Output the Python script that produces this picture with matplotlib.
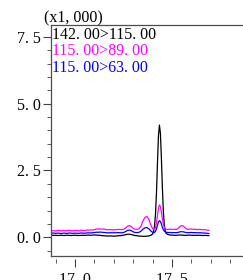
import matplotlib.pyplot as plt
from matplotlib.ticker import MultipleLocator, FixedLocator
import numpy as np

# retention time grid (min): 0.01 steps, 0.005 steps around the main peak
rt = np.round(np.concatenate([np.arange(16.88, 17.395, 0.01),
                              np.arange(17.400, 17.4725, 0.005),
                              np.arange(17.48, 17.695, 0.01)]), 3)

# 142.00>115.00
black = [80, 70, 75, 65, 70, 75, 65, 70, 75, 70, 65, 70, 75, 70, 65, 70, 75, 70, 75, 80,
         75, 80, 85, 80, 75, 70, 60, 55, 50, 45, 50, 45, 40, 45, 55, 60, 65, 80, 95, 110,
         115, 100, 80, 65, 55, 45, 40, 35, 35, 40, 50, 70,
         120, 220, 450, 900, 1700, 2800, 3800, 4200, 3900, 3000, 1900, 1000, 480, 240, 140,
         100, 85, 80, 75, 70, 80, 85, 80, 75, 70, 75, 80, 75, 70, 75, 70, 75, 70, 65, 70,
         65, 60]
# 115.00>89.00
magenta = [240, 250, 230, 260, 250, 235, 255, 240, 250, 265, 245, 240, 255, 250, 240, 265,
           260, 250, 270, 265, 275, 270, 285, 310, 305, 315, 300, 310, 285, 280, 290, 275,
           285, 280, 295, 290, 285, 300, 340, 410, 440, 400, 330, 300, 295, 320, 420, 600,
           740, 780, 680, 470,
           320, 290, 300, 380, 560, 820, 1080, 1210, 1150, 950, 700, 500, 380, 320, 300,
           290, 305, 295, 300, 290, 320, 400, 440, 410, 330, 295, 300, 310, 295, 300, 285,
           295, 290, 280, 285, 270, 255]
# 115.00>63.00
blue = [150, 160, 145, 155, 150, 140, 155, 150, 145, 160, 150, 145, 155, 150, 145, 160,
        155, 150, 160, 165, 160, 170, 175, 190, 185, 195, 185, 180, 170, 165, 170, 165,
        170, 165, 175, 170, 165, 180, 210, 255, 270, 245, 200, 180, 175, 185, 230, 300,
        350, 365, 320, 240,
        185, 170, 180, 230, 320, 450, 570, 620, 590, 500, 380, 290, 230, 200, 185,
        175, 180, 170, 175, 170, 180, 200, 210, 200, 180, 170, 175, 180, 170, 175, 165,
        170, 165, 160, 155, 150, 140]

labels = ['142. 00>115. 00', '115. 00>89. 00', '115. 00>63. 00']
colors = ['black', '#ff00ff', '#0000ff']

plt.rcParams['font.family'] = ['Liberation Serif', 'DejaVu Serif']

fig = plt.figure(figsize=(2.43, 2.80), dpi=100)
ax = fig.add_axes([0.21, 0.084, 0.79, 0.827])

for ys, c in zip([black, magenta, blue], colors):
    ax.plot(rt, np.array(ys) / 1000.0, color=c, lw=0.9)

ax.set_xlim(16.876, 17.866)
ax.set_ylim(-0.72, 7.95)

ax.yaxis.set_major_locator(FixedLocator([0.0, 2.5, 5.0, 7.5]))
ax.yaxis.set_minor_locator(MultipleLocator(0.5))
ax.set_yticklabels(['0. 0', '2. 5', '5. 0', '7. 5'])
ax.tick_params(axis='y', which='both', direction='out', colors='0.25',
               labelcolor='black', labelsize=11.5)
ax.tick_params(axis='y', which='major', length=6, pad=1)
ax.tick_params(axis='y', which='minor', length=3)
ax.tick_params(axis='x', which='both', bottom=False, labelbottom=False)

# time axis ticks sit a little below the frame
sec = ax.secondary_xaxis(-3 / 232)
sec.spines['bottom'].set_visible(False)
sec.xaxis.set_major_locator(FixedLocator([17.0, 17.5]))
sec.xaxis.set_minor_locator(MultipleLocator(0.1))
sec.set_xticklabels(['17. 0', '17. 5'])
sec.tick_params(which='both', direction='out', colors='0.25', labelcolor='black',
                labelsize=11.5)
sec.tick_params(which='major', length=5.5, pad=3.5)
sec.tick_params(which='minor', length=3)

ax.spines['right'].set_visible(False)
for s in ['left', 'top', 'bottom']:
    ax.spines[s].set_color('0.3')
    ax.spines[s].set_linewidth(0.9)

for i, (lab, c) in enumerate(zip(labels, colors)):
    ax.text(0.004, 0.99 - i * 0.07, lab, color=c, fontsize=11.5,
            transform=ax.transAxes, ha='left', va='top')

fig.text(73 / 243, 1 - 18 / 280, '(x1, 000)', fontsize=11.5, ha='center', va='center')

fig.savefig('out.png', dpi=100)
